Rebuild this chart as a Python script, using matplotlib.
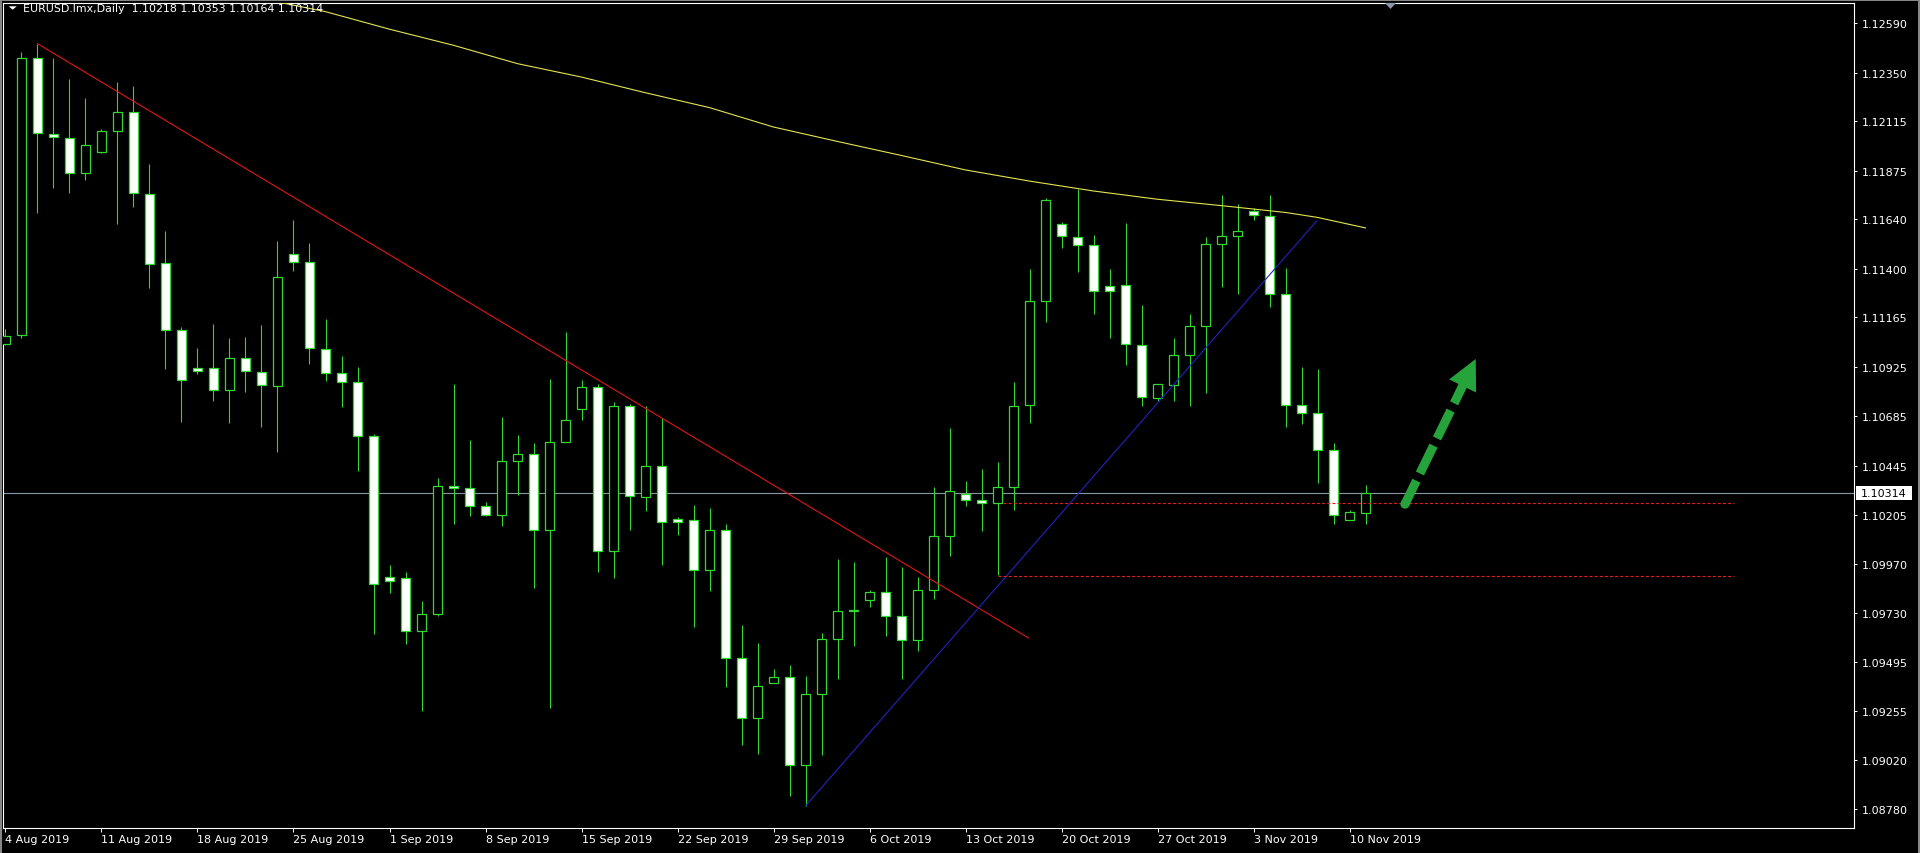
import numpy as np
import matplotlib
matplotlib.use("Agg")
import matplotlib.pyplot as plt
from matplotlib.patches import Rectangle, Polygon, Circle
from matplotlib.lines import Line2D
from matplotlib.transforms import IdentityTransform

plt.rcParams['font.family'] = ['DejaVu Sans']
plt.rcParams['lines.scale_dashes'] = False

# ---------------- data ----------------
title_text = "EURUSD.lmx,Daily  1.10218 1.10353 1.10164 1.10314"

opens = [1.11036, 1.11079, 1.12421, 1.12051, 1.12035, 1.11861, 1.11966, 1.12069, 1.12159, 1.11763,
         1.11427, 1.11102, 1.10917, 1.10917, 1.10814, 1.10968, 1.10899, 1.10830, 1.11470, 1.11433,
         1.11010, 1.10894, 1.10851, 1.10590, 1.09908, 1.09900, 1.09644, 1.09726, 1.10347, 1.10336,
         1.10249, 1.10207, 1.10468, 1.10500, 1.10135, 1.10561, 1.10722, 1.10825, 1.10032, 1.10735,
         1.10291, 1.10442, 1.10186, 1.10180, 1.09940, 1.10135, 1.09512, 1.09224, 1.09393, 1.09419,
         1.08996, 1.09337, 1.09607, 1.09742, 1.09792, 1.09834, 1.09715, 1.09602, 1.09845, 1.10106,
         1.10310, 1.10281, 1.10262, 1.10341, 1.10740, 1.11245, 1.11618, 1.11554, 1.11515, 1.11316,
         1.11322, 1.11031, 1.10771, 1.10836, 1.10981, 1.11121, 1.11520, 1.11560, 1.11681, 1.11657,
         1.11277, 1.10740, 1.10701, 1.10521, 1.10183, 1.10218]
highs = [1.11108, 1.12450, 1.12490, 1.12421, 1.12320, 1.12225, 1.12077, 1.12305, 1.12284, 1.11906,
         1.11583, 1.11116, 1.11013, 1.11132, 1.11063, 1.11068, 1.11129, 1.11533, 1.11636, 1.11525,
         1.11158, 1.10976, 1.10925, 1.10598, 1.09964, 1.09932, 1.09787, 1.10384, 1.10843, 1.10571,
         1.10270, 1.10680, 1.10595, 1.10556, 1.10865, 1.11095, 1.10862, 1.10843, 1.10754, 1.10746,
         1.10733, 1.10674, 1.10196, 1.10254, 1.10238, 1.10164, 1.09673, 1.09586, 1.09462, 1.09480,
         1.09427, 1.09636, 1.09995, 1.09980, 1.09845, 1.10003, 1.09956, 1.09905, 1.10341, 1.10630,
         1.10373, 1.10429, 1.10461, 1.10851, 1.11396, 1.11740, 1.11628, 1.11787, 1.11565, 1.11396,
         1.11623, 1.11224, 1.10841, 1.11063, 1.11179, 1.11552, 1.11755, 1.11713, 1.11694, 1.11755,
         1.11401, 1.10925, 1.10912, 1.10553, 1.10230, 1.10353]
lows = [1.11030, 1.11063, 1.11671, 1.11792, 1.11768, 1.11829, 1.11961, 1.11618, 1.11700, 1.11306,
        1.10915, 1.10659, 1.10891, 1.10756, 1.10653, 1.10801, 1.10632, 1.10513, 1.11390, 1.10939,
        1.10857, 1.10730, 1.10418, 1.09628, 1.09826, 1.09581, 1.09258, 1.09715, 1.10164, 1.10201,
        1.10201, 1.10151, 1.10304, 1.09853, 1.09269, 1.10561, 1.10666, 1.09932, 1.09900, 1.10132,
        1.10223, 1.09964, 1.10109, 1.09662, 1.09837, 1.09372, 1.09092, 1.09047, 1.09393, 1.08846,
        1.08796, 1.09041, 1.09409, 1.09570, 1.09760, 1.09618, 1.09409, 1.09549, 1.09797, 1.10009,
        1.10249, 1.10127, 1.09913, 1.10228, 1.10651, 1.11142, 1.11501, 1.11385, 1.11179, 1.11063,
        1.10931, 1.10733, 1.10760, 1.10756, 1.10733, 1.10799, 1.11311, 1.11277, 1.11636, 1.11213,
        1.10632, 1.10645, 1.10360, 1.10164, 1.10183, 1.10164]
closes = [1.11073, 1.12421, 1.12056, 1.12040, 1.11861, 1.12001, 1.12069, 1.12159, 1.11766, 1.11422,
          1.11102, 1.10859, 1.10904, 1.10814, 1.10968, 1.10902, 1.10838, 1.11359, 1.11433, 1.11013,
          1.10894, 1.10851, 1.10590, 1.09871, 1.09884, 1.09644, 1.09726, 1.10347, 1.10336, 1.10252,
          1.10207, 1.10468, 1.10500, 1.10135, 1.10558, 1.10666, 1.10825, 1.10032, 1.10735, 1.10297,
          1.10442, 1.10170, 1.10170, 1.09940, 1.10135, 1.09512, 1.09224, 1.09377, 1.09419, 1.08996,
          1.09337, 1.09607, 1.09742, 1.09745, 1.09834, 1.09718, 1.09602, 1.09845, 1.10106, 1.10320,
          1.10281, 1.10262, 1.10341, 1.10735, 1.11245, 1.11734, 1.11557, 1.11512, 1.11290, 1.11290,
          1.11034, 1.10780, 1.10841, 1.10981, 1.11121, 1.11520, 1.11560, 1.11583, 1.11660, 1.11277,
          1.10740, 1.10701, 1.10521, 1.10204, 1.10221, 1.10314]

date_labels = ["4 Aug 2019", "11 Aug 2019", "18 Aug 2019", "25 Aug 2019", "1 Sep 2019",
               "8 Sep 2019", "15 Sep 2019", "22 Sep 2019", "29 Sep 2019", "6 Oct 2019",
               "13 Oct 2019", "20 Oct 2019", "27 Oct 2019", "3 Nov 2019", "10 Nov 2019"]
date_label_bars = [0, 6, 12, 18, 24, 30, 36, 42, 48, 54, 60, 66, 72, 78, 84]

price_ticks = [1.12590, 1.12350, 1.12115, 1.11875, 1.11640, 1.11400, 1.11165, 1.10925,
               1.10685, 1.10445, 1.10205, 1.09970, 1.09730, 1.09495, 1.09255, 1.09020, 1.08780]

ma_bars = [17, 20, 24, 28, 32, 36, 40, 44, 48, 52, 56, 60, 64, 68, 72, 76, 80, 82, 85]
ma_values = [1.12692, 1.12645, 1.12560, 1.12482, 1.12393, 1.12328, 1.12252, 1.12180, 1.12086,
             1.12016, 1.11948, 1.11878, 1.11824, 1.11776, 1.11736, 1.11705, 1.11672, 1.11648, 1.11597]

bid_price = 1.10314

red_trend_bars = [2.0, 63.94]
red_trend_prices = [1.12490, 1.09610]
blue_trend_bars = [50.0, 81.96]
blue_trend_prices = [1.08796, 1.11632]
level_upper_bars = [62.36, 108.0]
level_upper_price = 1.10263
level_lower_bars = [62.0, 108.0]
level_lower_price = 1.09911
arrow_tail = (87.47, 1.10259)
arrow_tip = (91.89, 1.10962)

# ---------------- figure ----------------
W, H, DPI = 1920, 854, 100
fig = plt.figure(figsize=(W / DPI, H / DPI), dpi=DPI, facecolor='black')
L, R, T, B = 3, 1854, 4, 829
ax = fig.add_axes([L / W, 1 - B / H, (R - L) / W, (B - T) / H], facecolor='black')
ax.set_xlim(-0.156, 115.53)
ax.set_ylim(1.086894, 1.126869)

GREEN = '#34d634'
FG = 'white'

for s in ax.spines.values():
    s.set_color(FG)
    s.set_linewidth(0.8)

ax.yaxis.tick_right()
ax.set_yticks(price_ticks)
ax.set_yticklabels([f"{p:.5f}" for p in price_ticks])
ax.tick_params(axis='y', colors=FG, labelcolor=FG, length=2.2, width=0.7, pad=3.2, labelsize=8)
ax.set_xticks(date_label_bars)
ax.set_xticklabels(date_labels)
for t in ax.get_xticklabels():
    t.set_ha('left')
ax.tick_params(axis='x', colors=FG, labelcolor=FG, length=3, width=0.7, pad=1.2, labelsize=8)

# bid line
ax.axhline(bid_price, color='#8a95a6', lw=0.8, zorder=1)

# candles
n = len(opens)
idx = np.arange(n)
ax.vlines(idx, lows, highs, color=GREEN, lw=0.8, zorder=3)
for i in range(n):
    o, c = opens[i], closes[i]
    bottom = min(o, c)
    h = abs(c - o)
    fc = 'white' if c < o else 'black'
    ax.add_patch(Rectangle((i - 0.29, bottom), 0.58, h, facecolor=fc,
                           edgecolor=GREEN, lw=0.9, zorder=4))

# moving average
ax.plot(ma_bars, ma_values, color='#e4e450', lw=0.8, zorder=5)

# trend lines
ax.plot(red_trend_bars, red_trend_prices, color='#e01818', lw=0.8, zorder=6)
ax.plot(blue_trend_bars, blue_trend_prices, color='#2222c0', lw=0.8, zorder=6)
ax.plot(level_upper_bars, [level_upper_price] * 2, color='#e02020', lw=0.8,
        linestyle=(0, (2.2, 1.5)), zorder=6)
ax.plot(level_lower_bars, [level_lower_price] * 2, color='#e02020', lw=0.8,
        linestyle=(0, (2.2, 1.5)), zorder=6)

# green dashed arrow (computed in pixel space)
ARROW = '#26a33a'
tpx = ax.transData.transform(arrow_tail)
ppx = ax.transData.transform(arrow_tip)
d = ppx - tpx
u = d / np.hypot(*d)
perp = np.array([-u[1], u[0]])
head_len, head_half = 30, 15
base = ppx - head_len * u
shaft_end = base + 3 * u
fig.add_artist(Line2D([tpx[0], shaft_end[0]], [tpx[1], shaft_end[1]], transform=IdentityTransform(),
                      color=ARROW, lw=6.5, dash_capstyle='butt', solid_capstyle='butt',
                      linestyle=(3.6, (22.3, 5.8))))
fig.add_artist(Circle(tpx, 4.6, transform=IdentityTransform(), color=ARROW, lw=0))
fig.add_artist(Polygon([ppx, base + head_half * perp, base - head_half * perp],
                       closed=True, transform=IdentityTransform(), color=ARROW, lw=0))

# bid price label on the price scale
yb = ax.transData.transform((0, bid_price))[1]
fig.add_artist(Rectangle((1856, yb - 7), 56, 14, transform=IdentityTransform(),
                         facecolor='white', edgecolor='none'))
fig.text(1860.5 / W, yb / H, f"{bid_price:.5f}", color='black', fontsize=8,
         va='center', ha='left')

# title
fig.add_artist(Polygon([(8.7, H - 7.3), (16.7, H - 7.3), (12.7, H - 10.7)], closed=True,
                       transform=IdentityTransform(), color='white', lw=0))
fig.text(23 / W, 1 - 9 / H, title_text, color='white', fontsize=7.9, va='center', ha='left')

# chart shift marker
fig.add_artist(Polygon([(1385, H - 4), (1396, H - 4), (1390.5, H - 10)], closed=True,
                       transform=IdentityTransform(), color='#8c96a8', lw=0))

# window frame
for xs, ys in [((0, W), (H - 1, H - 1)), ((0.5, 0.5), (0, H)), ((W - 1.5, W - 1.5), (0, H))]:
    fig.add_artist(Line2D(xs, ys, transform=IdentityTransform(), color='#8a8a8a', lw=1.4))

fig.savefig("out.png", dpi=DPI, facecolor='black')
